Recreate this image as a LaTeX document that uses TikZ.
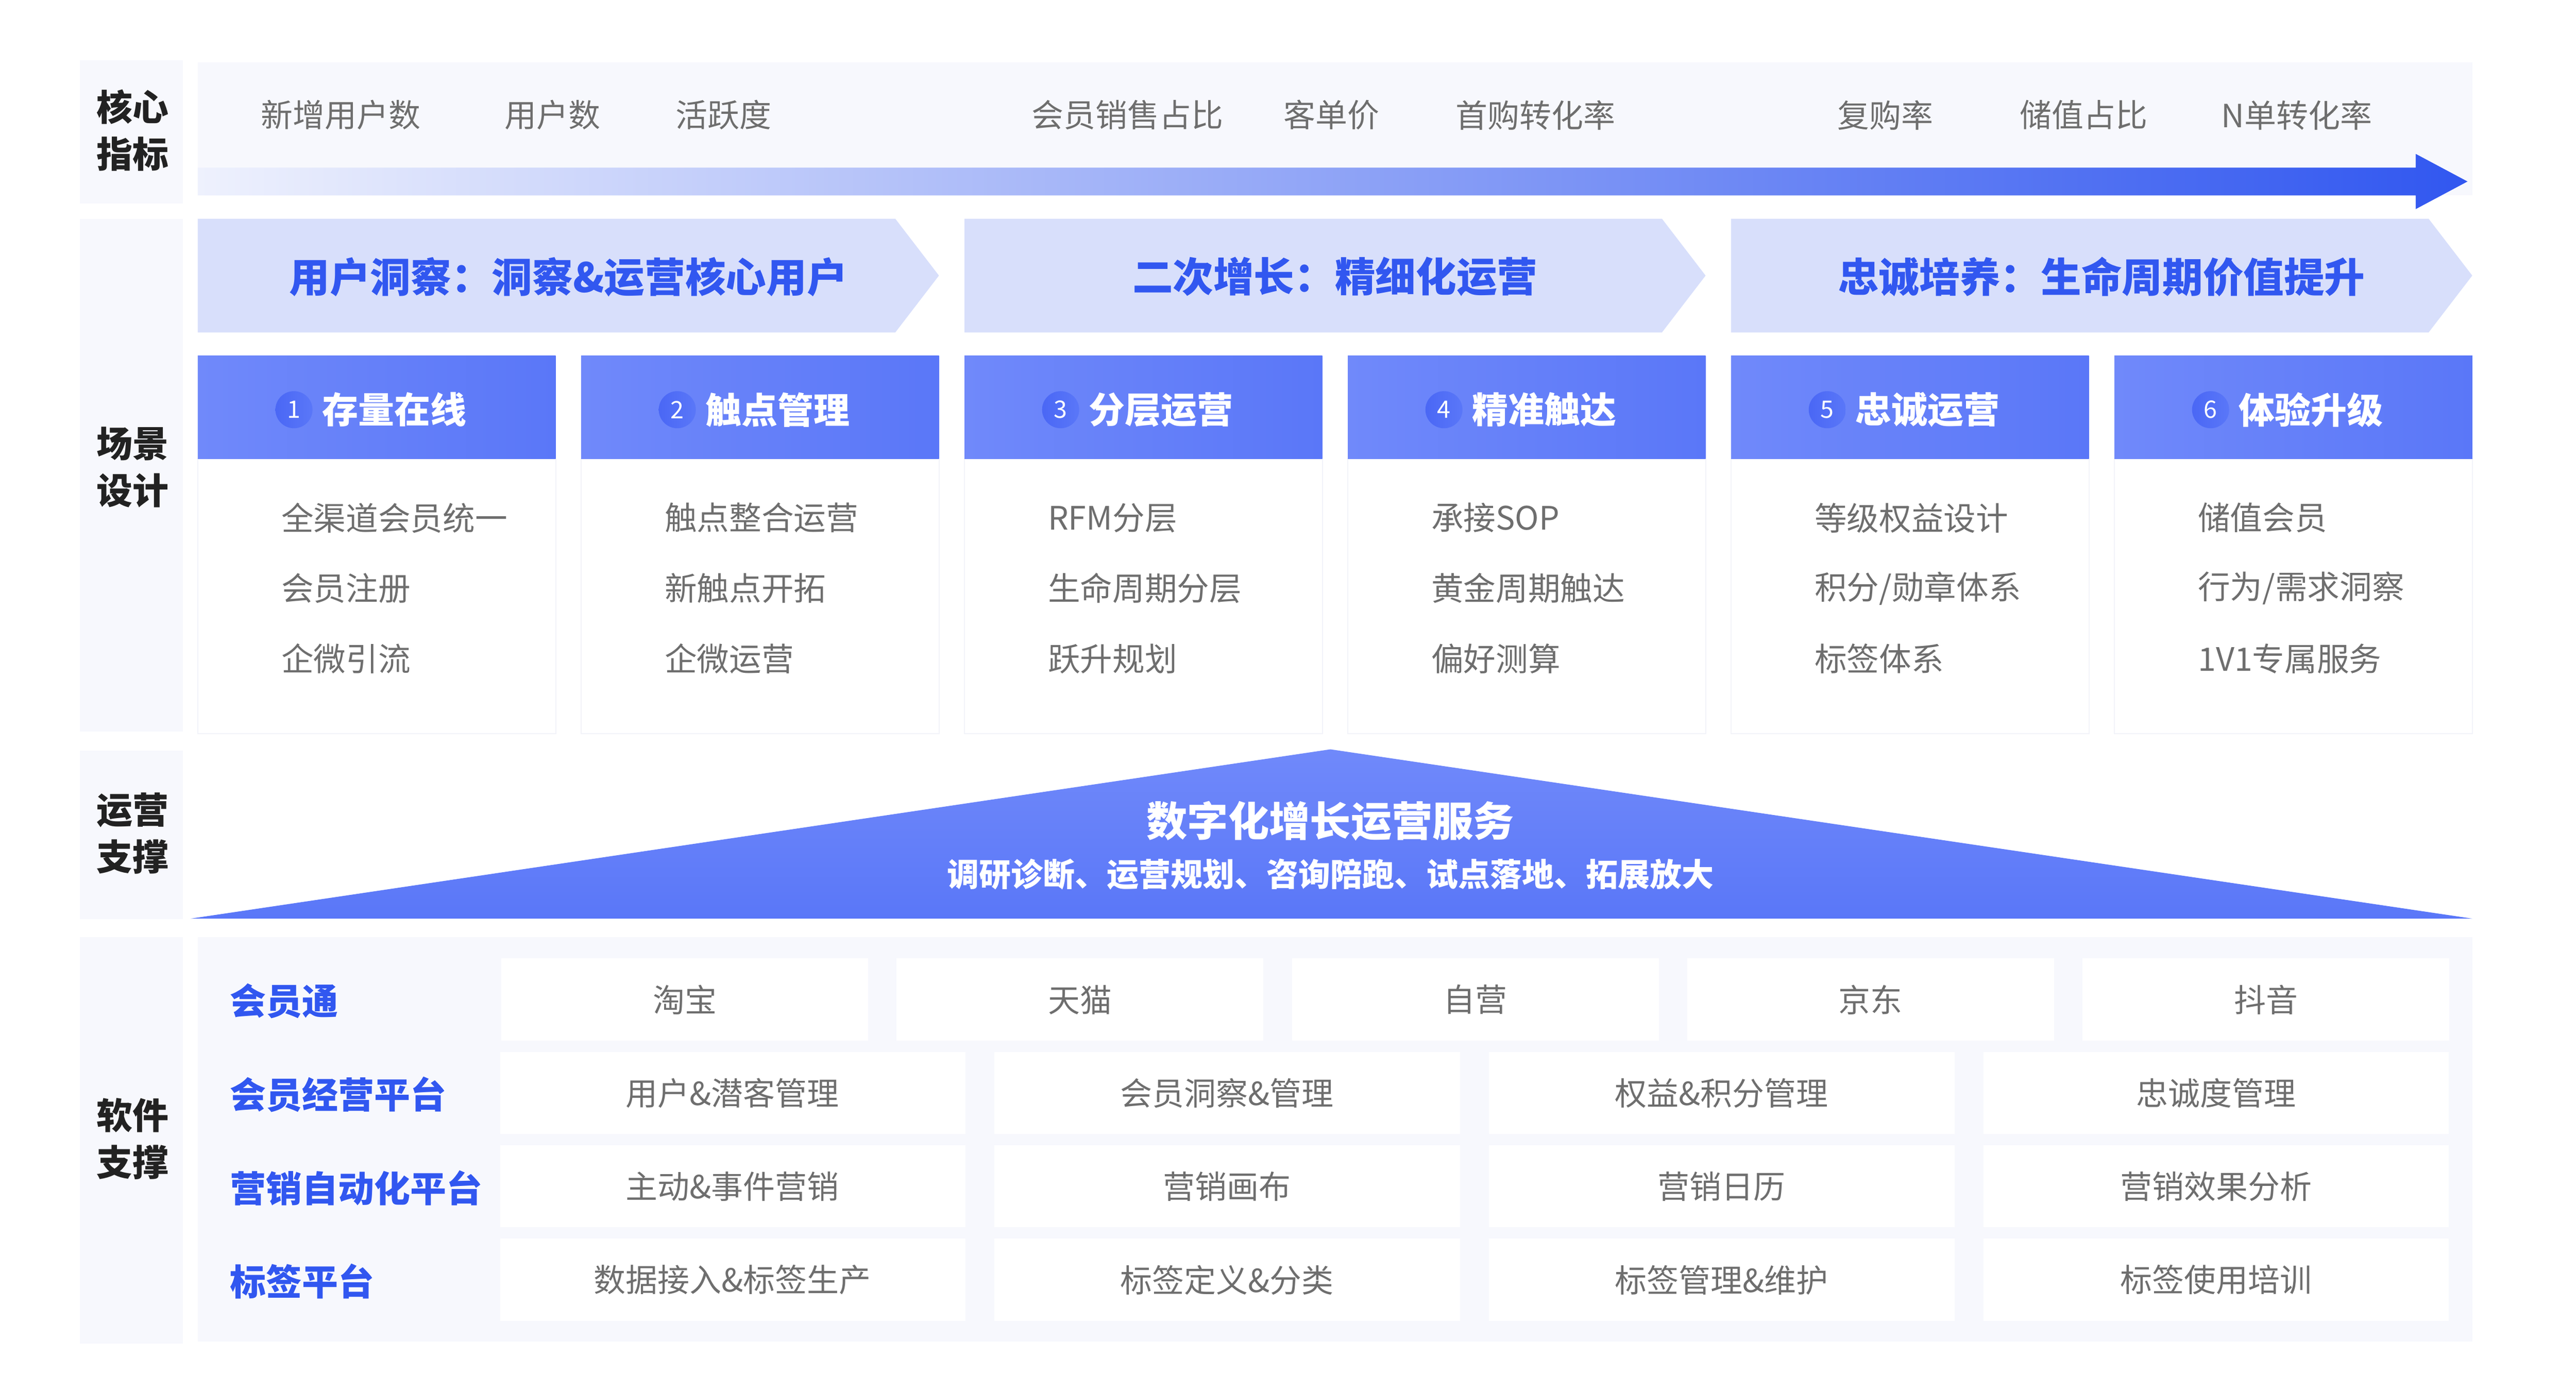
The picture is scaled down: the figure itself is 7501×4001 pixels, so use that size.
\documentclass[tikz,border=0pt]{standalone}
\usepackage{fontspec}
\setmainfont{Noto Sans CJK SC}
\usepackage{tikz}
\usetikzlibrary{positioning}

\definecolor{bgpanel}{HTML}{F7F8FD}
\definecolor{chevfill}{HTML}{D8DFFB}
\definecolor{mainblue}{HTML}{3157F0}
\definecolor{arrlight}{HTML}{EEF1FD}
\definecolor{hdleft}{HTML}{7089FA}
\definecolor{hdright}{HTML}{5A77F8}
\definecolor{numblue}{HTML}{4A67F5}
\definecolor{txtgray}{HTML}{6E6E6E}
\definecolor{txtdark}{HTML}{222222}
\definecolor{boxline}{HTML}{F2F3F9}

\begin{document}
\begin{tikzpicture}[x=1pt,y=-1pt,
		sidelab/.style={font=\fontsize{105}{137}\selectfont\bfseries, text=txtdark, align=center, inner sep=0},
		metric/.style={font=\fontsize{93}{93}\selectfont, text=txtgray, inner sep=0},
		chevtxt/.style={font=\fontsize{118}{118}\selectfont\bfseries, text=mainblue, inner sep=0},
		numdot/.style={circle, left color=numblue, right color=hdright, minimum size=108pt, inner sep=0, text=white, font=\fontsize{70}{70}\selectfont},
		headtxt/.style={font=\fontsize{105}{105}\selectfont\bfseries, text=white, inner sep=0},
		itemtxt/.style={font=\fontsize{94}{94}\selectfont, text=txtgray, inner sep=0, anchor=west},
		svctitle/.style={font=\fontsize{119}{119}\selectfont\bfseries, text=white, inner sep=0},
		svcsub/.style={font=\fontsize{93}{93}\selectfont\bfseries, text=white, inner sep=0},
		swlab/.style={font=\fontsize{105}{105}\selectfont\bfseries, text=mainblue, inner sep=0, anchor=west},
		swtxt/.style={font=\fontsize{93}{93}\selectfont, text=txtgray, inner sep=0}]

	\useasboundingbox[fill=white] (0,0) rectangle (7501,4001);

	\fill[bgpanel] (233,176) rectangle (532,593);
	\fill[bgpanel] (233,638) rectangle (532,2131);
	\fill[bgpanel] (233,2186) rectangle (532,2676);
	\fill[bgpanel] (233,2729) rectangle (532,3912);
	\node[sidelab] (lab1) at (386,380) {核心\\指标};
	\node[sidelab] (lab2) at (386,1361) {场景\\设计};
	\node[sidelab] (lab3) at (386,2427) {运营\\支撑};
	\node[sidelab] (lab4) at (386,3316) {软件\\支撑};

	\fill[bgpanel] (576,182) rectangle (7199,569);
	\shade[left color=arrlight, right color=mainblue] (576,488) -- (7034,488) -- (7034,448) -- (7185,528.5) -- (7034,609) -- (7034,569) -- (576,569) -- cycle;
	\foreach \m/\xm [count=\k] in {新增用户数/992, 用户数/1609, 活跃度/2107, 会员销售占比/3283, 客单价/3877, 首购转化率/4472, 复购率/5490, 储值占比/6068, N单转化率/6688}
		\node[metric] (m\k) at (\xm,335) {\m};

	\foreach \c [count=\k from 0, evaluate=\k as \xc using 576+2232.4*\k] in {用户洞察：洞察\&运营核心用户, 二次增长：精细化运营, 忠诚培养：生命周期价值提升}{
		\fill[chevfill] (\xc,637) -- (\xc+2031,637) -- (\xc+2158,802.5) -- (\xc+2031,968) -- (\xc,968) -- cycle;
		\node[chevtxt] (c\k) at (\xc+1079,806) {\c};
	}

	\foreach \h/\lst [count=\n, evaluate=\n as \xa using 576+1116.2*(\n-1)] in {存量在线/{全渠道会员统一,会员注册,企微引流}, 触点管理/{触点整合运营,新触点开拓,企微运营}, 分层运营/{RFM分层,生命周期分层,跃升规划}, 精准触达/{承接SOP,黄金周期触达,偏好测算}, 忠诚运营/{等级权益设计,积分/勋章体系,标签体系}, 体验升级/{储值会员,行为/需求洞察,1V1专属服务}}{
		\draw[boxline, fill=white, line width=3] (\xa,1336) rectangle (\xa+1042,2137);
		\shade[left color=hdleft, right color=hdright] (\xa,1036) rectangle (\xa+1042,1336);
		\node[numdot] (n\n) at (\xa+280,1193) {\n};
		\node[headtxt, right=28pt of n\n] (h\n) {\h};
		\foreach \t [count=\j from 0] in \lst
			\node[itemtxt] (it\n-\j) at (\xa+243,1508+205*\j) {\t};
	}

	\shade[top color=hdleft, bottom color=hdright] (555,2675) -- (3874,2182) -- (7199,2675) -- cycle;
	\node[svctitle] (svc) at (3874,2390) {数字化增长运营服务};
	\node[svcsub] (svcsub) at (3874,2546) {调研诊断、运营规划、咨询陪跑、试点落地、拓展放大};

	\fill[bgpanel] (576,2729) rectangle (7199,3907);
	\foreach \s [count=\r from 0] in {会员通, 会员经营平台, 营销自动化平台, 标签平台}
		\node[swlab] (sw\r) at (670,2915+272*\r) {\s};
	\foreach \b [count=\k from 0, evaluate=\k as \xb using 1460+1151*\k] in {淘宝, 天猫, 自营, 京东, 抖音}{
		\fill[white] (\xb,2791) rectangle (\xb+1068,3030);
		\node[swtxt] (ch\k) at (\xb+534,2911) {\b};
	}
	\foreach \lst [count=\r] in {{用户\&潜客管理,会员洞察\&管理,权益\&积分管理,忠诚度管理}, {主动\&事件营销,营销画布,营销日历,营销效果分析}, {数据接入\&标签生产,标签定义\&分类,标签管理\&维护,标签使用培训}}{
		\foreach \b [count=\k from 0, evaluate=\k as \xb using 1456+1440*\k] in \lst {
			\fill[white] (\xb,2791+272*\r) rectangle (\xb+1355,3030+272*\r);
			\node[swtxt] (sb\r-\k) at (\xb+677,2911+272*\r) {\b};
		}
	}

\end{tikzpicture}
\end{document}
